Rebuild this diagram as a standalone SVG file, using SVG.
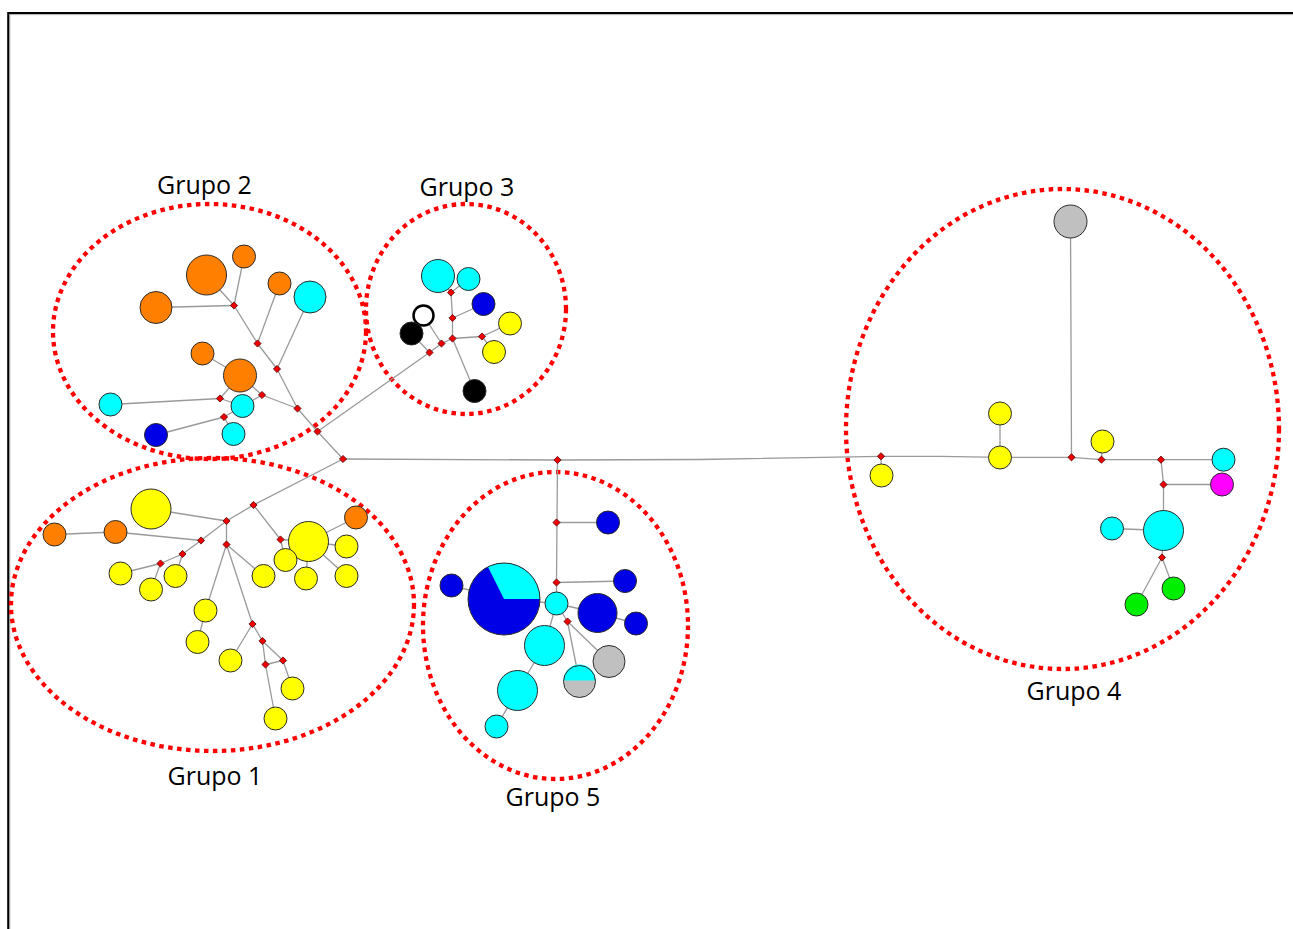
<svg xmlns="http://www.w3.org/2000/svg" xmlns:xlink="http://www.w3.org/1999/xlink" width="1293" height="929" viewBox="0 0 1293 929">
<style>
.e{stroke:#9a9a9a;stroke-width:1.3;fill:none}
.n{stroke:#2a2a2a;stroke-width:1}
.o{fill:#ff8000}.y{fill:#ffff00}.c{fill:#00ffff}.b{fill:#0000e6}.g{fill:#c0c0c0}.k{fill:#000}.gr{fill:#00ee00}.m{fill:#ff00ff}
.grp{fill:none;stroke:#ff0000;stroke-width:4.3;stroke-dasharray:4.5 4.5}
.lbl{font-family:"Open Sans","Liberation Sans",sans-serif;font-size:25px;fill:#000;text-anchor:middle}
</style>
<defs>
<path id="jn" d="M0,-3.6 L3.6,0 L0,3.6 L-3.6,0 Z" fill="#ee0000" stroke="#550000" stroke-width="0.8"/>
</defs>
<rect width="1293" height="929" fill="#fff"/>
<path d="M8.3,929 V13 H1293" fill="none" stroke="#000" stroke-width="2.2"/>
<path d="M9.8,929 V14.6 H1293" fill="none" stroke="#999" stroke-width="0.8"/>

<g id="groups">
<ellipse class="grp" cx="209.5" cy="331.5" rx="156.5" ry="127.5"/>
<ellipse class="grp" cx="466" cy="309" rx="100" ry="105"/>
<ellipse class="grp" cx="212.5" cy="604.5" rx="201.5" ry="146.5"/>
<ellipse class="grp" cx="555.5" cy="625.5" rx="132.5" ry="153.5"/>
<ellipse class="grp" cx="1062.5" cy="429" rx="216.5" ry="240"/>
</g>

<g id="connectors" class="e">
<line x1="206.5" y1="275" x2="234" y2="305.5"/>
<line x1="244" y1="256.5" x2="234" y2="305.5"/>
<line x1="156" y1="307.5" x2="234" y2="305.5"/>
<line x1="234" y1="305.5" x2="257.5" y2="343.5"/>
<line x1="257.5" y1="343.5" x2="279.5" y2="283.5"/>
<line x1="257.5" y1="343.5" x2="277" y2="369"/>
<line x1="277" y1="369" x2="310" y2="297"/>
<line x1="277" y1="369" x2="297.5" y2="408.5"/>
<line x1="297.5" y1="408.5" x2="262" y2="395"/>
<line x1="262" y1="395" x2="240" y2="375.5"/>
<line x1="262" y1="395" x2="242.5" y2="406"/>
<line x1="240" y1="375.5" x2="202.5" y2="353.5"/>
<line x1="220" y1="398.5" x2="110.5" y2="404.5"/>
<line x1="220" y1="398.5" x2="240" y2="375.5"/>
<line x1="220" y1="398.5" x2="242.5" y2="406"/>
<line x1="224" y1="417" x2="156" y2="435"/>
<line x1="224" y1="417" x2="242.5" y2="406"/>
<line x1="224" y1="417" x2="233.5" y2="434"/>
<line x1="297.5" y1="408.5" x2="317.5" y2="431.5"/>
<line x1="317.5" y1="431.5" x2="343" y2="459"/>
<line x1="317.5" y1="431.5" x2="429.5" y2="352.5"/>
<line x1="438" y1="276" x2="451" y2="292.5"/>
<line x1="468.5" y1="279" x2="451" y2="292.5"/>
<line x1="451" y1="292.5" x2="452.5" y2="318"/>
<line x1="452.5" y1="318" x2="483.5" y2="304"/>
<line x1="452.5" y1="318" x2="452.5" y2="338.5"/>
<line x1="452.5" y1="338.5" x2="482" y2="336.5"/>
<line x1="482" y1="336.5" x2="510" y2="323.5"/>
<line x1="482" y1="336.5" x2="494" y2="352"/>
<line x1="452.5" y1="338.5" x2="474.5" y2="391"/>
<line x1="452.5" y1="338.5" x2="441.5" y2="343.5"/>
<line x1="441.5" y1="343.5" x2="423.5" y2="315.5"/>
<line x1="441.5" y1="343.5" x2="429.5" y2="352.5"/>
<line x1="429.5" y1="352.5" x2="411.5" y2="333.5"/>
<line x1="343" y1="459" x2="253.5" y2="505"/>
<line x1="253.5" y1="505" x2="226.5" y2="521"/>
<line x1="253.5" y1="505" x2="280.5" y2="539.5"/>
<line x1="280.5" y1="539.5" x2="308.5" y2="541.5"/>
<line x1="280.5" y1="539.5" x2="285.5" y2="560"/>
<line x1="308.5" y1="541.5" x2="356" y2="517.5"/>
<line x1="308.5" y1="541.5" x2="346.5" y2="546.5"/>
<line x1="308.5" y1="541.5" x2="346.5" y2="576"/>
<line x1="308.5" y1="541.5" x2="306" y2="578.5"/>
<line x1="226.5" y1="521" x2="151" y2="509"/>
<line x1="226.5" y1="521" x2="201" y2="540.5"/>
<line x1="226.5" y1="521" x2="226.5" y2="544.5"/>
<line x1="201" y1="540.5" x2="115.5" y2="532"/>
<line x1="115.5" y1="532" x2="54.5" y2="534.5"/>
<line x1="201" y1="540.5" x2="182.5" y2="554"/>
<line x1="182.5" y1="554" x2="175.5" y2="576"/>
<line x1="182.5" y1="554" x2="160.5" y2="563.5"/>
<line x1="160.5" y1="563.5" x2="120.5" y2="573.5"/>
<line x1="160.5" y1="563.5" x2="151" y2="589.5"/>
<line x1="226.5" y1="544.5" x2="263.5" y2="576"/>
<line x1="226.5" y1="544.5" x2="205.5" y2="610.5"/>
<line x1="205.5" y1="610.5" x2="197.5" y2="642"/>
<line x1="226.5" y1="544.5" x2="252.5" y2="624"/>
<line x1="252.5" y1="624" x2="230.5" y2="660.5"/>
<line x1="252.5" y1="624" x2="262.5" y2="641"/>
<line x1="262.5" y1="641" x2="265.5" y2="664.5"/>
<line x1="262.5" y1="641" x2="283" y2="660.5"/>
<line x1="265.5" y1="664.5" x2="283" y2="660.5"/>
<line x1="283" y1="660.5" x2="292.5" y2="688.5"/>
<line x1="265.5" y1="664.5" x2="275.5" y2="718.5"/>
<polyline points="343,459 557.5,460 700,459.5 881,456.3"/>
<line x1="557.5" y1="460" x2="556.5" y2="582.5"/>
<line x1="556.5" y1="522.5" x2="608" y2="522.5"/>
<line x1="556.5" y1="582.5" x2="625" y2="581"/>
<line x1="556.5" y1="582.5" x2="556.5" y2="603.5"/>
<line x1="504" y1="599" x2="451.5" y2="585.5"/>
<line x1="504" y1="599" x2="556.5" y2="603.5"/>
<line x1="556.5" y1="603.5" x2="597.5" y2="613"/>
<line x1="597.5" y1="613" x2="636" y2="623.5"/>
<line x1="556.5" y1="603.5" x2="567.5" y2="621.5"/>
<line x1="556.5" y1="603.5" x2="544.5" y2="645.5"/>
<line x1="544.5" y1="645.5" x2="517.5" y2="690.5"/>
<line x1="517.5" y1="690.5" x2="496.5" y2="726.5"/>
<line x1="567.5" y1="621.5" x2="609" y2="661.5"/>
<line x1="567.5" y1="621.5" x2="579.5" y2="681.5"/>
<line x1="881" y1="456.3" x2="881.5" y2="475.5"/>
<polyline points="881,456.3 940,456.3 1000,457.3"/>
<line x1="1000" y1="457.3" x2="1000" y2="413.5"/>
<line x1="1000" y1="457.3" x2="1071.5" y2="457.3"/>
<polyline points="1071.5,457.3 1071,340 1070.5,221.5"/>
<line x1="1071.5" y1="457.3" x2="1101.5" y2="459.7"/>
<line x1="1101.5" y1="459.7" x2="1102.5" y2="441.5"/>
<line x1="1101.5" y1="459.7" x2="1161" y2="459.7"/>
<line x1="1161" y1="459.7" x2="1223.5" y2="459.7"/>
<line x1="1161" y1="459.7" x2="1163.5" y2="484.5"/>
<line x1="1163.5" y1="484.5" x2="1222" y2="484.5"/>
<line x1="1163.5" y1="484.5" x2="1163.5" y2="530.5"/>
<line x1="1163.5" y1="530.5" x2="1112" y2="528.5"/>
<line x1="1163.5" y1="530.5" x2="1162" y2="557.5"/>
<line x1="1162" y1="557.5" x2="1173.5" y2="588.5"/>
<line x1="1162" y1="557.5" x2="1136.5" y2="604.5"/>
</g>

<g id="g2-o1"><circle class="n o" cx="206.5" cy="275" r="20"/></g>
<g id="g2-o2"><circle class="n o" cx="244" cy="256.5" r="11.5"/></g>
<g id="g2-o3"><circle class="n o" cx="156" cy="307.5" r="16"/></g>
<g id="g2-o4"><circle class="n o" cx="279.5" cy="283.5" r="11.5"/></g>
<g id="g2-c1"><circle class="n c" cx="310" cy="297" r="16"/></g>
<g id="g2-o5"><circle class="n o" cx="202.5" cy="353.5" r="11.5"/></g>
<g id="g2-o6"><circle class="n o" cx="240" cy="375.5" r="16.5"/></g>
<g id="g2-c2"><circle class="n c" cx="110.5" cy="404.5" r="11.5"/></g>
<g id="g2-c3"><circle class="n c" cx="242.5" cy="406" r="11.5"/></g>
<g id="g2-b1"><circle class="n b" cx="156" cy="435" r="11.5"/></g>
<g id="g2-c4"><circle class="n c" cx="233.5" cy="434" r="11.5"/></g>
<g id="g2-j1"><use xlink:href="#jn" x="234" y="305.5"/></g>
<g id="g2-j2"><use xlink:href="#jn" x="257.5" y="343.5"/></g>
<g id="g2-j3"><use xlink:href="#jn" x="277" y="369"/></g>
<g id="g2-j4"><use xlink:href="#jn" x="262" y="395"/></g>
<g id="g2-j5"><use xlink:href="#jn" x="297.5" y="408.5"/></g>
<g id="g2-j6"><use xlink:href="#jn" x="220" y="398.5"/></g>
<g id="g2-j7"><use xlink:href="#jn" x="224" y="417"/></g>
<g id="g2-j8"><use xlink:href="#jn" x="317.5" y="431.5"/></g>
<g id="hub"><use xlink:href="#jn" x="343" y="459"/></g>

<g id="g3-c1"><circle class="n c" cx="438" cy="276" r="16.5"/></g>
<g id="g3-c2"><circle class="n c" cx="468.5" cy="279" r="11.5"/></g>
<g id="g3-b1"><circle class="n b" cx="483.5" cy="304" r="11.5"/></g>
<g id="g3-y1"><circle class="n y" cx="510" cy="323.5" r="11.5"/></g>
<g id="g3-y2"><circle class="n y" cx="494" cy="352" r="11.5"/></g>
<g id="g3-w1"><circle cx="423.5" cy="315.5" r="10" fill="#fff" stroke="#000" stroke-width="2.5"/></g>
<g id="g3-k1"><circle class="n k" cx="411.5" cy="333.5" r="11.5"/></g>
<g id="g3-k2"><circle class="n k" cx="474.5" cy="391" r="11.5"/></g>
<g id="g3-ja"><use xlink:href="#jn" x="451" y="292.5"/></g>
<g id="g3-jb"><use xlink:href="#jn" x="452.5" y="318"/></g>
<g id="g3-jc"><use xlink:href="#jn" x="452.5" y="338.5"/></g>
<g id="g3-jd"><use xlink:href="#jn" x="482" y="336.5"/></g>
<g id="g3-je"><use xlink:href="#jn" x="441.5" y="343.5"/></g>
<g id="g3-jf"><use xlink:href="#jn" x="429.5" y="352.5"/></g>

<g id="g1-y1"><circle class="n y" cx="151" cy="509" r="20"/></g>
<g id="g1-o1"><circle class="n o" cx="54.5" cy="534.5" r="11.5"/></g>
<g id="g1-o2"><circle class="n o" cx="115.5" cy="532" r="11.5"/></g>
<g id="g1-y2"><circle class="n y" cx="120.5" cy="573.5" r="11.5"/></g>
<g id="g1-y3"><circle class="n y" cx="151" cy="589.5" r="11.5"/></g>
<g id="g1-y4"><circle class="n y" cx="175.5" cy="576" r="11.5"/></g>
<g id="g1-y5"><circle class="n y" cx="308.5" cy="541.5" r="20"/></g>
<g id="g1-o3"><circle class="n o" cx="356" cy="517.5" r="11.5"/></g>
<g id="g1-y6"><circle class="n y" cx="346.5" cy="546.5" r="11.5"/></g>
<g id="g1-y7"><circle class="n y" cx="346.5" cy="576" r="11.5"/></g>
<g id="g1-y8"><circle class="n y" cx="306" cy="578.5" r="11.5"/></g>
<g id="g1-y9"><circle class="n y" cx="285.5" cy="560" r="11.5"/></g>
<g id="g1-y10"><circle class="n y" cx="263.5" cy="576" r="11.5"/></g>
<g id="g1-y11"><circle class="n y" cx="205.5" cy="610.5" r="11.5"/></g>
<g id="g1-y12"><circle class="n y" cx="197.5" cy="642" r="11.5"/></g>
<g id="g1-y13"><circle class="n y" cx="230.5" cy="660.5" r="11.5"/></g>
<g id="g1-y14"><circle class="n y" cx="292.5" cy="688.5" r="11.5"/></g>
<g id="g1-y15"><circle class="n y" cx="275.5" cy="718.5" r="11.5"/></g>
<g id="g1-ja"><use xlink:href="#jn" x="253.5" y="505"/></g>
<g id="g1-jb"><use xlink:href="#jn" x="226.5" y="521"/></g>
<g id="g1-jc"><use xlink:href="#jn" x="201" y="540.5"/></g>
<g id="g1-jd"><use xlink:href="#jn" x="226.5" y="544.5"/></g>
<g id="g1-je"><use xlink:href="#jn" x="182.5" y="554"/></g>
<g id="g1-jf"><use xlink:href="#jn" x="160.5" y="563.5"/></g>
<g id="g1-jg"><use xlink:href="#jn" x="280.5" y="539.5"/></g>
<g id="g1-jh"><use xlink:href="#jn" x="252.5" y="624"/></g>
<g id="g1-ji"><use xlink:href="#jn" x="262.5" y="641"/></g>
<g id="g1-jj"><use xlink:href="#jn" x="265.5" y="664.5"/></g>
<g id="g1-jk"><use xlink:href="#jn" x="283" y="660.5"/></g>

<g id="g5-b1"><circle class="n b" cx="608" cy="522.5" r="11.5"/></g>
<g id="g5-b2"><circle class="n b" cx="625" cy="581" r="11.5"/></g>
<g id="g5-b3"><circle class="n b" cx="451.5" cy="585.5" r="11.5"/></g>
<g id="g5-pie"><circle class="b" cx="504" cy="599" r="36"/><path class="c" d="M504,599 L487.9,566.8 A36,36 0 0,1 540,599 Z"/><circle cx="504" cy="599" r="36" fill="none" stroke="#2a2a2a" stroke-width="1"/></g>
<g id="g5-c1"><circle class="n c" cx="556.5" cy="603.5" r="11.5"/></g>
<g id="g5-b4"><circle class="n b" cx="597.5" cy="613" r="19.5"/></g>
<g id="g5-b5"><circle class="n b" cx="636" cy="623.5" r="11.5"/></g>
<g id="g5-c2"><circle class="n c" cx="544.5" cy="645.5" r="20"/></g>
<g id="g5-g1"><circle class="n g" cx="609" cy="661.5" r="16"/></g>
<g id="g5-half"><circle class="g" cx="579.5" cy="681.5" r="16"/><path class="c" d="M563.5,680.5 A16,16 0 0,1 595.5,680.5 Z"/><circle cx="579.5" cy="681.5" r="16" fill="none" stroke="#2a2a2a" stroke-width="1"/></g>
<g id="g5-c3"><circle class="n c" cx="517.5" cy="690.5" r="20"/></g>
<g id="g5-c4"><circle class="n c" cx="496.5" cy="726.5" r="11.5"/></g>
<g id="g5-j1"><use xlink:href="#jn" x="557.5" y="460"/></g>
<g id="g5-j2"><use xlink:href="#jn" x="556.5" y="522.5"/></g>
<g id="g5-j3"><use xlink:href="#jn" x="556.5" y="582.5"/></g>
<g id="g5-j4"><use xlink:href="#jn" x="567.5" y="621.5"/></g>

<g id="g4-g1"><circle class="n g" cx="1070.5" cy="221.5" r="16.5"/></g>
<g id="g4-y1"><circle class="n y" cx="881.5" cy="475.5" r="11.5"/></g>
<g id="g4-y2"><circle class="n y" cx="1000" cy="413.5" r="11.5"/></g>
<g id="g4-y3"><circle class="n y" cx="1000" cy="457.5" r="11.5"/></g>
<g id="g4-y4"><circle class="n y" cx="1102.5" cy="441.5" r="11.5"/></g>
<g id="g4-c1"><circle class="n c" cx="1223.5" cy="459.7" r="11.5"/></g>
<g id="g4-m1"><circle class="n m" cx="1222" cy="484.5" r="11.5"/></g>
<g id="g4-c2"><circle class="n c" cx="1163.5" cy="530.5" r="20"/></g>
<g id="g4-c3"><circle class="n c" cx="1112" cy="528.5" r="11.5"/></g>
<g id="g4-gr1"><circle class="n gr" cx="1173.5" cy="588.5" r="11.5"/></g>
<g id="g4-gr2"><circle class="n gr" cx="1136.5" cy="604.5" r="11.5"/></g>
<g id="g4-ja"><use xlink:href="#jn" x="881" y="456.3"/></g>
<g id="g4-jb"><use xlink:href="#jn" x="1071.5" y="457.3"/></g>
<g id="g4-jc"><use xlink:href="#jn" x="1101.5" y="459.7"/></g>
<g id="g4-jd"><use xlink:href="#jn" x="1161" y="459.7"/></g>
<g id="g4-je"><use xlink:href="#jn" x="1163.5" y="484.5"/></g>
<g id="g4-jf"><use xlink:href="#jn" x="1162" y="557.5"/></g>

<g id="labels">
<text class="lbl" x="204.5" y="193.5">Grupo 2</text>
<text class="lbl" x="467" y="196">Grupo 3</text>
<text class="lbl" x="215" y="785">Grupo 1</text>
<text class="lbl" x="553" y="806">Grupo 5</text>
<text class="lbl" x="1074" y="699.5">Grupo 4</text>
</g>
</svg>
